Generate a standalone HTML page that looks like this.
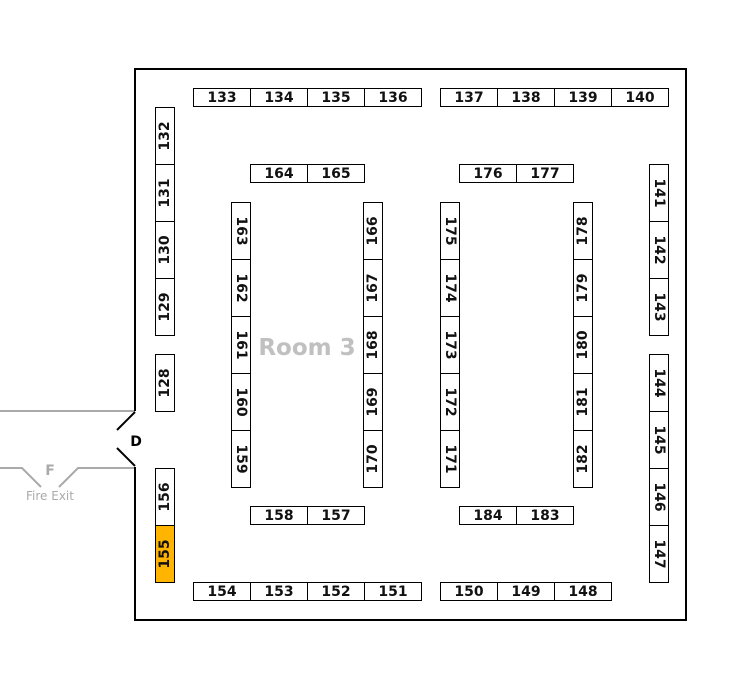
<!DOCTYPE html>
<html><head><meta charset="utf-8"><style>
body{margin:0;width:755px;height:689px;position:relative;background:#fff;overflow:hidden;font-family:"DejaVu Sans","Liberation Sans",sans-serif;}
.a{position:absolute;box-sizing:border-box;}
.h{position:absolute;box-sizing:border-box;width:58px;height:19px;border:1px solid #000;font-weight:bold;font-size:14px;text-align:center;line-height:18px;color:#111;background:#fff;}
.v{position:absolute;box-sizing:border-box;width:20px;height:58px;border:1px solid #000;background:#fff;}
.v span{position:absolute;left:50%;top:50%;font-weight:bold;font-size:14px;color:#111;white-space:nowrap;line-height:14px;}
.cw span{transform:translate(-50%,-50%) rotate(90deg);}
.ccw span{transform:translate(-50%,-50%) rotate(-90deg);}
</style></head><body>
<svg class="a" style="left:0;top:0" width="755" height="689">
<g stroke="#aaa" stroke-width="2" fill="none">
<line x1="0" y1="411" x2="135" y2="411"/>
<polyline points="0,468 22,468 41,487"/>
<polyline points="59,487 78,468 135,468"/>
</g>
<g stroke="#000" stroke-width="2" fill="none">
<polyline points="135,411 135,69 686,69 686,620 135,620 135,467"/>
<line x1="135" y1="412" x2="117" y2="430"/>
<line x1="117" y1="448" x2="135" y2="466"/>
</g>
<text x="136" y="446" font-family="DejaVu Sans" font-weight="bold" font-size="14" text-anchor="middle" fill="#000">D</text>
<text x="50" y="475" font-family="DejaVu Sans" font-weight="bold" font-size="14" text-anchor="middle" fill="#aaa">F</text>
<text x="50" y="500" font-family="DejaVu Sans" font-size="12" text-anchor="middle" fill="#aaa">Fire Exit</text>
<text x="307" y="355" font-family="DejaVu Sans" font-weight="bold" font-size="23" text-anchor="middle" fill="#c0c0c0">Room 3</text>
</svg>

<div class="h" style="left:193px;top:88px">133</div>
<div class="h" style="left:250px;top:88px">134</div>
<div class="h" style="left:307px;top:88px">135</div>
<div class="h" style="left:364px;top:88px">136</div>
<div class="h" style="left:440px;top:88px">137</div>
<div class="h" style="left:497px;top:88px">138</div>
<div class="h" style="left:554px;top:88px">139</div>
<div class="h" style="left:611px;top:88px">140</div>

<div class="h" style="left:250px;top:164px">164</div>
<div class="h" style="left:307px;top:164px">165</div>
<div class="h" style="left:459px;top:164px">176</div>
<div class="h" style="left:516px;top:164px">177</div>

<div class="h" style="left:250px;top:506px">158</div>
<div class="h" style="left:307px;top:506px">157</div>
<div class="h" style="left:459px;top:506px">184</div>
<div class="h" style="left:516px;top:506px">183</div>

<div class="h" style="left:193px;top:582px">154</div>
<div class="h" style="left:250px;top:582px">153</div>
<div class="h" style="left:307px;top:582px">152</div>
<div class="h" style="left:364px;top:582px">151</div>
<div class="h" style="left:440px;top:582px">150</div>
<div class="h" style="left:497px;top:582px">149</div>
<div class="h" style="left:554px;top:582px">148</div>

<div class="v ccw" style="left:155px;top:107px"><span>132</span></div>
<div class="v ccw" style="left:155px;top:164px"><span>131</span></div>
<div class="v ccw" style="left:155px;top:221px"><span>130</span></div>
<div class="v ccw" style="left:155px;top:278px"><span>129</span></div>
<div class="v ccw" style="left:155px;top:354px"><span>128</span></div>
<div class="v ccw" style="left:155px;top:468px"><span>156</span></div>
<div class="v ccw" style="left:155px;top:525px;background:#ffb400"><span>155</span></div>

<div class="v cw" style="left:231px;top:202px"><span>163</span></div>
<div class="v cw" style="left:231px;top:259px"><span>162</span></div>
<div class="v cw" style="left:231px;top:316px"><span>161</span></div>
<div class="v cw" style="left:231px;top:373px"><span>160</span></div>
<div class="v cw" style="left:231px;top:430px"><span>159</span></div>

<div class="v ccw" style="left:363px;top:202px"><span>166</span></div>
<div class="v ccw" style="left:363px;top:259px"><span>167</span></div>
<div class="v ccw" style="left:363px;top:316px"><span>168</span></div>
<div class="v ccw" style="left:363px;top:373px"><span>169</span></div>
<div class="v ccw" style="left:363px;top:430px"><span>170</span></div>

<div class="v cw" style="left:440px;top:202px"><span>175</span></div>
<div class="v cw" style="left:440px;top:259px"><span>174</span></div>
<div class="v cw" style="left:440px;top:316px"><span>173</span></div>
<div class="v cw" style="left:440px;top:373px"><span>172</span></div>
<div class="v cw" style="left:440px;top:430px"><span>171</span></div>

<div class="v ccw" style="left:573px;top:202px"><span>178</span></div>
<div class="v ccw" style="left:573px;top:259px"><span>179</span></div>
<div class="v ccw" style="left:573px;top:316px"><span>180</span></div>
<div class="v ccw" style="left:573px;top:373px"><span>181</span></div>
<div class="v ccw" style="left:573px;top:430px"><span>182</span></div>

<div class="v cw" style="left:649px;top:164px"><span>141</span></div>
<div class="v cw" style="left:649px;top:221px"><span>142</span></div>
<div class="v cw" style="left:649px;top:278px"><span>143</span></div>
<div class="v cw" style="left:649px;top:354px"><span>144</span></div>
<div class="v cw" style="left:649px;top:411px"><span>145</span></div>
<div class="v cw" style="left:649px;top:468px"><span>146</span></div>
<div class="v cw" style="left:649px;top:525px"><span>147</span></div>
</body></html>
